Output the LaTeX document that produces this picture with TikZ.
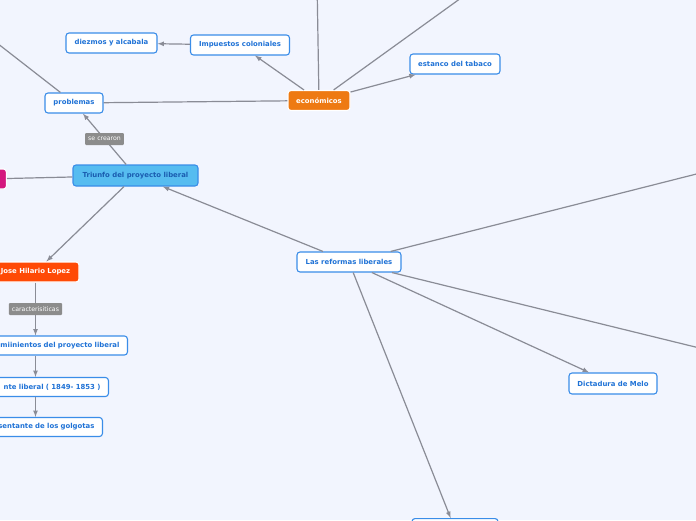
\documentclass[tikz,border=0pt]{standalone}
\usepackage{fontspec}
\setmainfont{DejaVu Sans}
\definecolor{bg}{HTML}{F2F5FE}
\definecolor{bluebd}{HTML}{3A8DE8}
\definecolor{bluetx}{HTML}{1F72D6}
\definecolor{mainfill}{HTML}{56BCF0}
\definecolor{maintx}{HTML}{1A5CB0}
\definecolor{econfill}{HTML}{EE7A12}
\definecolor{josefill}{HTML}{FF4A06}
\definecolor{pinkfill}{HTML}{D4177E}
\definecolor{linkgray}{HTML}{8A8C96}
\definecolor{taggray}{HTML}{8C8C8C}

\begin{document}
\begin{tikzpicture}[x=1pt, y=-1pt, >=latex,
  topic/.style={draw=bluebd, fill=white, line width=1.1pt, rounded corners=3pt,
    minimum height=20pt, inner xsep=4pt, text=bluetx,
    font=\fontsize{6.9}{8}\selectfont\bfseries},
  mainbox/.style={topic, fill=mainfill, text=maintx},
  econbox/.style={topic, draw=white, fill=econfill, text=white},
  josebox/.style={topic, draw=white, fill=josefill, text=white},
  pinkbox/.style={topic, draw=white, fill=pinkfill},
  cutbox/.style={topic, anchor=east, inner xsep=8pt, align=right, minimum height=19pt},
  tag/.style={fill=taggray, text=white, rounded corners=1pt, inner xsep=3pt,
    inner ysep=0pt, minimum height=12pt, font=\fontsize{6.2}{7}\selectfont},
  link/.style={draw=linkgray, line width=1.2pt}]
  \useasboundingbox (0,0) rectangle (696,520);
  \fill[bg] (0,0) rectangle (696,520);
  \clip (0,0) rectangle (696,520);

  \node[topic, minimum width=91pt] (diezmos) at (111.5,43) {diezmos y alcabala};
  \node[topic, minimum width=99pt] (impuestos) at (240,45) {Impuestos coloniales};
  \node[topic, minimum width=58pt] (problemas) at (74,103) {problemas};
  \node[econbox, minimum width=62pt] (economicos) at (319,100.5) {económicos};
  \node[topic, minimum width=90pt] (estanco) at (455,64) {estanco del tabaco};
  \node[mainbox, minimum width=125pt, minimum height=21pt] (triunfo) at (135.5,175.5) {Triunfo del proyecto liberal};
  \node[pinkbox, anchor=east, minimum width=40pt] (rosa) at (7,179) {};
  \node[josebox, minimum width=87pt] (jose) at (35.5,272) {Jose Hilario Lopez};
  \node[cutbox, text width=150pt] (lineam) at (128,345.5) {imiinientos del proyecto liberal};
  \node[cutbox, text width=130pt] (presid) at (109,387) {nte liberal ( 1849- 1853 )};
  \node[cutbox, text width=130pt] (repres) at (103,427) {sentante de los golgotas};
  \node[topic, minimum width=104pt] (reformas) at (349,262) {Las reformas liberales};
  \node[topic, minimum width=88pt, minimum height=21pt] (melo) at (613,383.5) {Dictadura de Melo};
  \node[topic, anchor=north, minimum width=86pt, minimum height=21pt] (abajo) at (455,518) {};

  \coordinate (econarriba) at (317,-20);
  \coordinate (econdiag) at (486,-20);
  \coordinate (probdiag) at (-30,22);
  \coordinate (refdiag) at (730,165.5);
  \coordinate (refder) at (730,355.5);

  \draw[link, ->] (impuestos) -- (diezmos);
  \draw[link, ->] (economicos) -- (impuestos);
  \draw[link] (economicos) -- (econarriba);
  \draw[link] (economicos) -- (econdiag);
  \draw[link, ->] (economicos) -- (estanco);
  \draw[link] (economicos) -- (problemas);
  \draw[link] (problemas) -- (probdiag);
  \draw[link, ->] (triunfo) -- node[tag] {se crearon} (problemas);
  \draw[link] (rosa) -- (triunfo);
  \draw[link, ->] (triunfo) -- (jose);
  \draw[link, ->] (jose.south) -- node[tag] {caracterisiticas} (jose.south |- lineam.north);
  \draw[link, ->] (jose.south |- lineam.south) -- (jose.south |- presid.north);
  \draw[link, ->] (jose.south |- presid.south) -- (jose.south |- repres.north);
  \draw[link, ->] (reformas) -- (triunfo);
  \draw[link] (reformas) -- (refdiag);
  \draw[link] (reformas) -- (refder);
  \draw[link, ->] (reformas) -- (melo);
  \draw[link, ->] (reformas) -- (abajo);
\end{tikzpicture}
\end{document}
